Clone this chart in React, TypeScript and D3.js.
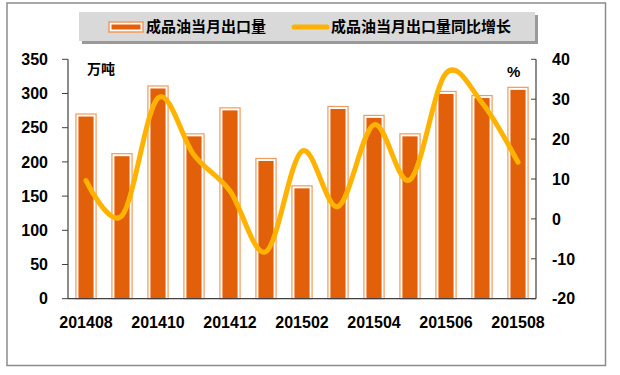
import React, { useRef, useEffect } from 'react';
import * as d3 from 'd3';

// monthly data, 201408 - 201508
const months = ['201408', '201409', '201410', '201411', '201412', '201501', '201502',
  '201503', '201504', '201505', '201506', '201507', '201508'];
const exportVolume = [270, 212, 311, 241, 279, 205, 165, 281, 268, 241, 303, 297, 309];
const yoyGrowth = [9.6, 0.8, 30.3, 16, 7, -8.2, 17, 3.1, 23.6, 9.8, 36.5, 29.1, 14.2];
const leftTicks = [0, 50, 100, 150, 200, 250, 300, 350];
const rightTicks = [-20, -10, 0, 10, 20, 30, 40];
const xTickLabels = ['201408', '201410', '201412', '201502', '201504', '201506', '201508'];
const legendLabels = ['成品油当月出口量', '成品油当月出口量同比增长'];

const W = 620;
const H = 375;
const numFont = '"Liberation Sans", Arial, sans-serif';
const cjkFont = '"Noto Sans CJK SC", "DejaVu Sans", sans-serif';

const App = () => {
  const svgRef = useRef<SVGSVGElement>(null);

  useEffect(() => {
    const svg = d3.select(svgRef.current);
    svg.selectAll('*').remove();

    const left = 68, right = 536, top = 59.3, bottom = 298.7;

    // outer frame
    svg.append('rect')
      .attr('x', 7).attr('y', 3).attr('width', 598.5).attr('height', 362.5)
      .attr('fill', '#fff').attr('stroke', '#8c8c8c').attr('stroke-width', 1.5);

    const x = d3.scaleBand<string>()
      .domain(months)
      .range([left, right])
      .paddingInner(0.44)
      .paddingOuter(0.22);
    const yL = d3.scaleLinear().domain([0, 350]).range([bottom, top]);
    const yR = d3.scaleLinear().domain([-20, 40]).range([bottom, top]);

    // bars: light outline, white gap, dark orange fill
    const bars = svg.append('g');
    months.forEach((m, i) => {
      const x0 = x(m)!;
      const bw = x.bandwidth();
      const yt = yL(exportVolume[i]);
      bars.append('rect')
        .attr('x', x0).attr('y', yt)
        .attr('width', bw).attr('height', bottom - yt)
        .attr('fill', '#fff').attr('stroke', '#f29a5c').attr('stroke-width', 1.2);
      bars.append('rect')
        .attr('x', x0 + 2.5).attr('y', yt + 2.5)
        .attr('width', bw - 5).attr('height', Math.max(0, bottom - yt - 3))
        .attr('fill', '#e2600a');
    });

    // smooth line
    const line = d3.line<number>()
      .x((_, i) => x(months[i])! + x.bandwidth() / 2)
      .y((d) => yR(d))
      .curve(d3.curveCardinal.tension(0));
    svg.append('path')
      .datum(yoyGrowth)
      .attr('fill', 'none')
      .attr('stroke', '#ffb300')
      .attr('stroke-width', 5)
      .attr('stroke-linecap', 'round')
      .attr('d', line);

    // left axis
    const axL = svg.append('g');
    axL.append('line').attr('x1', left).attr('x2', left).attr('y1', top).attr('y2', bottom)
      .attr('stroke', '#404040').attr('stroke-width', 1.2);
    leftTicks.forEach((t) => {
      axL.append('line').attr('x1', left - 6).attr('x2', left).attr('y1', yL(t)).attr('y2', yL(t))
        .attr('stroke', '#404040').attr('stroke-width', 1);
      axL.append('text').attr('x', 48).attr('y', yL(t)).attr('dy', '0.36em')
        .attr('text-anchor', 'end').attr('font-family', numFont).attr('font-weight', 'bold')
        .attr('font-size', 16).attr('fill', '#000').text(t);
    });

    // right axis
    const axR = svg.append('g');
    axR.append('line').attr('x1', right).attr('x2', right).attr('y1', top).attr('y2', bottom)
      .attr('stroke', '#404040').attr('stroke-width', 1.2);
    rightTicks.forEach((t) => {
      axR.append('line').attr('x1', right - 5).attr('x2', right).attr('y1', yR(t)).attr('y2', yR(t))
        .attr('stroke', '#404040').attr('stroke-width', 1);
      axR.append('text').attr('x', 552).attr('y', yR(t)).attr('dy', '0.36em')
        .attr('text-anchor', 'start').attr('font-family', numFont).attr('font-weight', 'bold')
        .attr('font-size', 16).attr('fill', '#000').text(t);
    });

    // bottom axis
    svg.append('line').attr('x1', left).attr('x2', right).attr('y1', bottom).attr('y2', bottom)
      .attr('stroke', '#404040').attr('stroke-width', 1.2);
    xTickLabels.forEach((lbl) => {
      svg.append('text').attr('x', x(lbl)! + x.bandwidth() / 2).attr('y', 322).attr('dy', '0.36em')
        .attr('text-anchor', 'middle').attr('font-family', numFont).attr('font-weight', 'bold')
        .attr('font-size', 16).attr('fill', '#000').text(lbl);
    });

    // unit labels
    svg.append('text').attr('x', 87).attr('y', 69).attr('dy', '0.36em')
      .attr('font-family', cjkFont).attr('font-weight', 'bold').attr('font-size', 14).text('万吨');
    svg.append('text').attr('x', 507).attr('y', 72).attr('dy', '0.36em')
      .attr('font-family', numFont).attr('font-weight', 'bold').attr('font-size', 15).text('%');

    // legend
    const lg = svg.append('g');
    lg.append('rect').attr('x', 82).attr('y', 15).attr('width', 456).attr('height', 29)
      .attr('fill', '#9a9a9a');
    lg.append('rect').attr('x', 79).attr('y', 12).attr('width', 456).attr('height', 29)
      .attr('fill', '#d9d9d9');
    lg.append('rect').attr('x', 109).attr('y', 22).attr('width', 34).attr('height', 10)
      .attr('fill', '#fff').attr('stroke', '#f29a5c').attr('stroke-width', 1.5);
    lg.append('rect').attr('x', 111.5).attr('y', 24.5).attr('width', 29).attr('height', 5)
      .attr('fill', '#e2600a');
    lg.append('text').attr('x', 146).attr('y', 27).attr('dy', '0.36em')
      .attr('font-family', cjkFont).attr('font-weight', 'bold').attr('font-size', 15)
      .text(legendLabels[0]);
    lg.append('line').attr('x1', 294).attr('x2', 327).attr('y1', 27).attr('y2', 27)
      .attr('stroke', '#ffb300').attr('stroke-width', 5).attr('stroke-linecap', 'round');
    lg.append('text').attr('x', 331).attr('y', 27).attr('dy', '0.36em')
      .attr('font-family', cjkFont).attr('font-weight', 'bold').attr('font-size', 15)
      .text(legendLabels[1]);
  }, []);

  return (
    <svg ref={svgRef} width={W} height={H}
      style={{ position: 'absolute', left: 0, top: 0, background: '#fff' }} />
  );
};

export default App;
